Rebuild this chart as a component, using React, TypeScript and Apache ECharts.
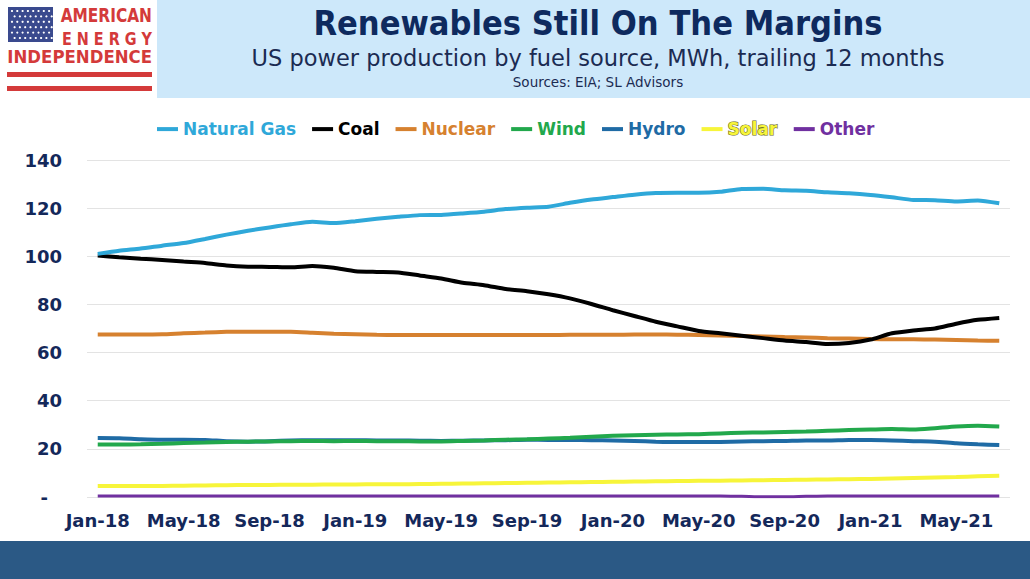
import React, { useEffect, useRef } from "react";
import * as echarts from "echarts";

const MONTHS = ["Jan", "Feb", "Mar", "Apr", "May", "Jun", "Jul", "Aug", "Sep", "Oct", "Nov", "Dec"];
const YEARS = ["18", "19", "20", "21"];
const CATEGORIES: string[] = [];
YEARS.forEach((y) => MONTHS.forEach((m) => CATEGORIES.push(m + "-" + y)));
CATEGORIES.length = 43; // Jan-18 .. Jul-21

const NATURAL_GAS = [101.0, 102.3, 103.2, 104.4, 105.5, 107.2, 109.0, 110.6, 112.0, 113.3,
  114.3, 113.8, 114.6, 115.6, 116.4, 117.1, 117.2, 117.8, 118.5, 119.6,
  120.2, 120.6, 122.2, 123.6, 124.6, 125.6, 126.3, 126.4, 126.4, 126.8,
  128.0, 128.1, 127.4, 127.2, 126.6, 126.2, 125.5, 124.5, 123.4, 123.3,
  122.8, 123.2, 122.0];
const COAL = [100.3, 99.6, 99.0, 98.5, 97.8, 97.2, 96.2, 95.7, 95.6, 95.4,
  96.0, 95.2, 93.8, 93.5, 93.3, 92.0, 90.8, 89.0, 88.0, 86.4,
  85.5, 84.2, 82.5, 80.2, 77.6, 75.2, 72.8, 70.9, 69.0, 68.0,
  67.0, 66.0, 65.0, 64.4, 63.6, 64.0, 65.4, 68.0, 69.2, 70.0,
  72.0, 73.6, 74.4];
const NUCLEAR = [67.5, 67.5, 67.5, 67.6, 68.0, 68.3, 68.6, 68.7, 68.7, 68.6,
  68.2, 67.8, 67.6, 67.4, 67.3, 67.3, 67.3, 67.3, 67.3, 67.3,
  67.3, 67.3, 67.4, 67.4, 67.4, 67.5, 67.5, 67.4, 67.3, 67.1,
  66.9, 66.7, 66.5, 66.3, 66.0, 65.8, 65.6, 65.5, 65.5, 65.4,
  65.2, 65.0, 64.9];
const WIND = [21.8, 21.8, 21.9, 22.1, 22.4, 22.6, 22.9, 23.0, 23.1, 23.2,
  23.3, 23.2, 23.3, 23.2, 23.2, 23.1, 23.1, 23.3, 23.5, 23.8,
  24.0, 24.3, 24.6, 25.0, 25.4, 25.7, 25.9, 26.0, 26.1, 26.4,
  26.7, 26.8, 27.0, 27.2, 27.5, 27.8, 28.0, 28.2, 28.0, 28.6,
  29.3, 29.6, 29.3];
const HYDRO = [24.5, 24.4, 24.0, 23.8, 23.8, 23.7, 23.2, 23.0, 23.2, 23.5,
  23.6, 23.6, 23.6, 23.5, 23.5, 23.4, 23.3, 23.4, 23.5, 23.6,
  23.8, 23.7, 23.7, 23.6, 23.5, 23.3, 23.0, 22.8, 22.8, 22.9,
  23.1, 23.2, 23.3, 23.5, 23.5, 23.7, 23.7, 23.5, 23.2, 23.0,
  22.3, 21.9, 21.6];
const SOLAR = [4.6, 4.6, 4.6, 4.6, 4.7, 4.8, 4.9, 5.0, 5.0, 5.1,
  5.1, 5.2, 5.2, 5.3, 5.3, 5.4, 5.5, 5.6, 5.7, 5.8,
  5.9, 6.0, 6.1, 6.2, 6.3, 6.4, 6.5, 6.6, 6.7, 6.8,
  6.9, 7.0, 7.1, 7.2, 7.3, 7.4, 7.5, 7.7, 7.9, 8.1,
  8.3, 8.6, 8.8];
const OTHER = [0.4, 0.4, 0.4, 0.4, 0.4, 0.4, 0.4, 0.4, 0.4, 0.4,
  0.4, 0.4, 0.4, 0.4, 0.4, 0.4, 0.4, 0.4, 0.4, 0.4,
  0.4, 0.4, 0.4, 0.4, 0.4, 0.4, 0.4, 0.4, 0.4, 0.4,
  0.3, 0.1, 0.1, 0.3, 0.4, 0.4, 0.4, 0.4, 0.4, 0.4,
  0.4, 0.4, 0.4];

const SERIES_NAMES = ["Natural Gas", "Coal", "Nuclear", "Wind", "Hydro", "Solar", "Other"];
const SERIES_DATA = [NATURAL_GAS, COAL, NUCLEAR, WIND, HYDRO, SOLAR, OTHER];
const SERIES_COLORS = ["#2FA8D9", "#000000", "#D6812F", "#22A84C", "#1F6BA5", "#F7F53A", "#7030A0"];

const Y_MIN = 0;
const Y_MAX = 140;
const Y_STEP = 20;

const FONT = "'DejaVu Sans', Verdana, sans-serif";
const NAVY = "#14285A";
const RED = "#D43A3A";

function txt(text: string, x: number, y: number, font: string, fill: string, align: string, scaleX = 1) {
  return {
    type: "text",
    x,
    y,
    scaleX,
    z: 2,
    style: { text, x: 0, y: 0, align, verticalAlign: "top", font, fill },
  };
}

function buildGraphics() {
  const g: any[] = [];
  // header band
  g.push({ type: "rect", shape: { x: 157, y: 0, width: 873, height: 98 }, style: { fill: "#CDE8FA" }, z: 0 });
  // bottom bar
  g.push({ type: "rect", shape: { x: 0, y: 541, width: 1030, height: 38 }, style: { fill: "#2B5985" }, z: 0 });
  // flag canton
  g.push({ type: "rect", shape: { x: 8, y: 7, width: 45, height: 35 }, style: { fill: "#3A4A8E" }, z: 1 });
  for (let r = 0; r < 6; r++) {
    for (let c = 0; c < 8; c++) {
      g.push({
        type: "circle",
        shape: { cx: 12 + c * 5.3 + (r % 2) * 2.6, cy: 11 + r * 5.4, r: 1.1 },
        style: { fill: "#FFFFFF" },
        z: 2,
      });
    }
  }
  // logo texts
  g.push(txt("AMERICAN", 152, 5, "bold 20px " + FONT, RED, "right", 0.77));
  g.push(txt("E N E R G Y", 152, 29.5, "bold 18px " + FONT, RED, "right", 0.8));
  g.push(txt("INDEPENDENCE", 152, 47.5, "bold 18px " + FONT, RED, "right", 0.92));
  g.push({ type: "rect", shape: { x: 7, y: 72, width: 145, height: 5 }, style: { fill: RED }, z: 1 });
  g.push({ type: "rect", shape: { x: 7, y: 86, width: 145, height: 5 }, style: { fill: RED }, z: 1 });
  // titles
  g.push(txt("Renewables Still On The Margins", 598, 7, "bold 33px " + FONT, "#0E2A5E", "center", 0.93));
  g.push(txt("US power production by fuel source, MWh, trailing 12 months", 598, 46, "22.5px " + FONT, "#1B2B52", "center"));
  g.push(txt("Sources: EIA; SL Advisors", 598, 74.5, "13.5px " + FONT, "#1B2B52", "center"));
  return g;
}

export default function App() {
  const ref = useRef<HTMLDivElement>(null);
  useEffect(() => {
    if (!ref.current) return;
    const chart = echarts.init(ref.current, null, { renderer: "svg" });
    chart.setOption({
      animation: false,
      backgroundColor: "#FFFFFF",
      graphic: buildGraphics(),
      legend: {
        left: 152,
        top: 115,
        icon: "rect",
        itemWidth: 21,
        itemHeight: 4,
        itemGap: 16,
        textStyle: { fontFamily: FONT, fontWeight: "bold", fontSize: 17 },
        data: SERIES_NAMES.map((n, i) => ({
          name: n,
          textStyle:
            n === "Solar"
              ? { color: SERIES_COLORS[i], textBorderColor: "#6B6B2A", textBorderWidth: 1.2 }
              : { color: SERIES_COLORS[i] },
        })),
      },
      grid: { left: 87, right: 20, top: 160, bottom: 82, containLabel: false },
      xAxis: {
        type: "category",
        data: CATEGORIES,
        boundaryGap: true,
        axisLine: { show: false },
        axisTick: { show: false },
        axisLabel: {
          interval: 3,
          margin: 14,
          color: NAVY,
          fontFamily: FONT,
          fontWeight: "bold",
          fontSize: 18,
        },
      },
      yAxis: {
        type: "value",
        min: Y_MIN,
        max: Y_MAX,
        interval: Y_STEP,
        axisLine: { show: false },
        axisTick: { show: false },
        splitLine: { lineStyle: { color: "#E3E3E3", width: 1 } },
        axisLabel: {
          margin: 25,
          color: NAVY,
          fontFamily: FONT,
          fontWeight: "bold",
          fontSize: 18,
          formatter: (v: number) => (v === 0 ? "{d|-}" : String(v)),
          rich: { d: { color: NAVY, fontFamily: FONT, fontWeight: "bold", fontSize: 18, padding: [0, 14, 0, 0] } },
        },
      },
      series: SERIES_NAMES.map((n, i) => ({
        name: n,
        type: "line",
        data: SERIES_DATA[i],
        showSymbol: false,
        symbol: "none",
        smooth: 0.2,
        lineStyle: { color: SERIES_COLORS[i], width: n === "Other" ? 3 : 4 },
        itemStyle: { color: SERIES_COLORS[i] },
        z: 10 - i,
      })),
    });
    return () => chart.dispose();
  }, []);
  return <div ref={ref} style={{ position: "absolute", left: 0, top: 0, width: 1030, height: 579 }} />;
}
